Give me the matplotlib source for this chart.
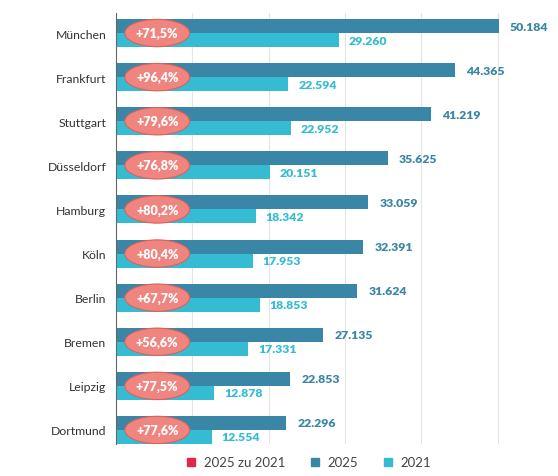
import matplotlib
matplotlib.use('Agg')
from matplotlib import pyplot as plt
from matplotlib.patches import Ellipse
from matplotlib.lines import Line2D

cities = ['München', 'Frankfurt', 'Stuttgart', 'Düsseldorf', 'Hamburg',
          'Köln', 'Berlin', 'Bremen', 'Leipzig', 'Dortmund']
v2025 = [50184, 44365, 41219, 35625, 33059, 32391, 31624, 27135, 22853, 22296]
v2021 = [29260, 22594, 22952, 20151, 18342, 17953, 18853, 17331, 12878, 12554]
change = [71.5, 96.4, 79.6, 76.8, 80.2, 80.4, 67.7, 56.6, 77.5, 77.6]

c25 = '#3a86a6'
c21 = '#35bcd2'
cchg = '#e0284a'

plt.rcParams['font.family'] = ['Lato', 'DejaVu Sans']

def fmt(v):
    return f'{v:,}'.replace(',', '.')

fig = plt.figure(figsize=(5.58, 4.77), dpi=100)
ax = fig.add_axes([116/558, 32/477, 435/558, 431/477])

h = 0.318
y = list(range(len(cities)))
ax.barh([i - h/2 for i in y], v2025, height=h, color=c25, zorder=2)
ax.barh([i + h/2 for i in y], v2021, height=h, color=c21, zorder=2)

for i in y:
    ax.annotate(fmt(v2025[i]), (v2025[i], i - h/2), xytext=(8, 0),
                textcoords='offset points', va='center', ha='left',
                color=c25, fontsize=8.8, fontweight='heavy')
    ax.annotate(fmt(v2021[i]), (v2021[i], i + h/2), xytext=(7, 0),
                textcoords='offset points', va='center', ha='left',
                color=c21, fontsize=8.8, fontweight='heavy')
    e = Ellipse((5400, i), 8500, 0.62, facecolor='#f0857f',
                edgecolor='#d9625c', linewidth=0.8, zorder=3)
    ax.add_patch(e)
    ax.text(5400, i, '+' + f'{change[i]:.1f}'.replace('.', ',') + '%',
            ha='center', va='center', color='white', fontsize=9,
            fontweight='heavy', zorder=4)

ax.set_ylim(9 + h, -h - 0.136)
ax.set_xlim(0, 57000)
ax.set_yticks(y)
ax.set_yticklabels(cities, fontsize=8.8, color='#333333')
ax.set_xticks([10000, 20000, 30000, 40000, 50000])
ax.tick_params(axis='y', length=0, pad=7)
ax.tick_params(axis='x', length=0, labelbottom=False)
ax.grid(axis='x', color='#e4e4e4', linewidth=0.8, zorder=0)
for s in ['top', 'right', 'bottom']:
    ax.spines[s].set_visible(False)
ax.spines['left'].set_color('#666666')
ax.spines['left'].set_linewidth(0.8)

handles = [Line2D([], [], marker='s', linestyle='', color=c, markersize=6)
           for c in [cchg, c25, c21]]
fig.legend(handles, ['2025 zu 2021', '2025', '2021'], loc='center',
           bbox_to_anchor=(0.553, 0.029), ncol=3, frameon=False,
           fontsize=9.5, handlelength=0.8, handletextpad=0.6,
           columnspacing=1.8, labelcolor='#444444')

fig.savefig('out.png', dpi=100)
